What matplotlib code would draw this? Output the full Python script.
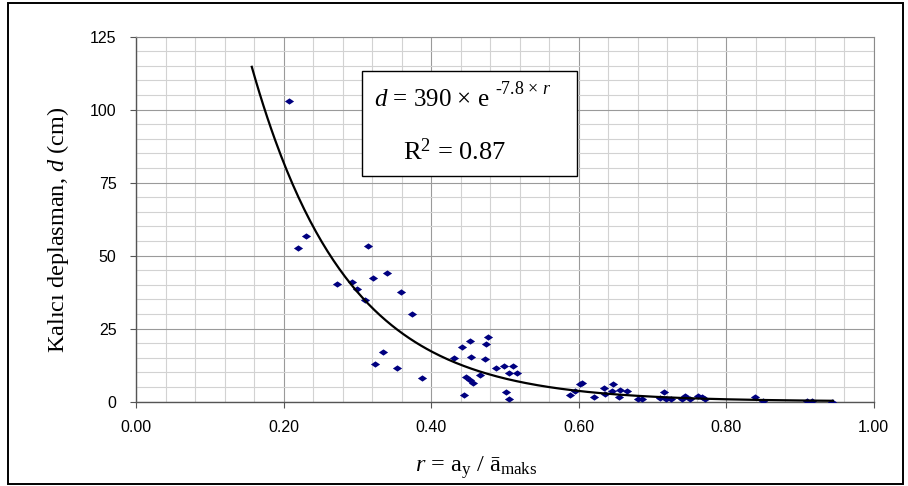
import numpy as np
import matplotlib
matplotlib.use('agg')
import matplotlib.pyplot as plt
from matplotlib.patches import Rectangle
from matplotlib.ticker import MultipleLocator, FormatStrFormatter

plt.rcParams['font.family'] = ['Liberation Sans', 'DejaVu Sans']
plt.rcParams['mathtext.fontset'] = 'custom'
plt.rcParams['mathtext.rm'] = 'Liberation Serif'
plt.rcParams['mathtext.it'] = 'Liberation Serif:italic'

# r = a_y / a_maks and permanent displacement d (cm)
r_vals = [0.207, 0.219, 0.231, 0.315, 0.273, 0.293, 0.300, 0.322, 0.341, 0.311,
          0.359, 0.374, 0.335, 0.324, 0.354, 0.388, 0.431, 0.442, 0.453, 0.477,
          0.475, 0.454, 0.473, 0.448, 0.453, 0.457, 0.466, 0.488, 0.499, 0.511,
          0.506, 0.516, 0.445, 0.502, 0.506, 0.589, 0.595, 0.602, 0.605, 0.621,
          0.635, 0.647, 0.636, 0.646, 0.656, 0.655, 0.666, 0.680, 0.686, 0.716,
          0.711, 0.719, 0.725, 0.740, 0.744, 0.751, 0.762, 0.768, 0.772, 0.839,
          0.850, 0.910, 0.916, 0.944]
d_vals = [103.0, 52.7, 56.7, 53.2, 40.1, 40.9, 38.5, 42.2, 44.1, 34.8,
          37.4, 29.9, 16.8, 12.8, 11.6, 8.2, 14.9, 18.6, 20.8, 22.0,
          19.8, 15.2, 14.5, 8.5, 7.4, 6.4, 9.0, 11.6, 12.1, 12.3,
          9.9, 9.9, 2.2, 3.3, 0.9, 2.2, 3.6, 5.9, 6.4, 1.4,
          4.7, 6.0, 2.5, 3.7, 3.9, 1.4, 3.6, 0.9, 0.9, 3.2,
          1.1, 0.8, 0.8, 0.8, 1.9, 0.9, 1.9, 1.4, 0.8, 1.4,
          0.1, 0.2, 0.2, 0.0]

# fitted curve d = A * exp(-B * r)
fit_a = 390
fit_b = 7.8
fit_r_start = 0.157
fit_r_end = 0.945

fig = plt.figure(figsize=(9.08, 4.86), dpi=100)
ax = fig.add_axes([136 / 908, 1 - 401.5 / 486, 737.5 / 908, 365 / 486])

diamond = [(-1, 0), (0, 0.68), (1, 0), (0, -0.68), (-1, 0)]
ax.scatter(r_vals, d_vals, marker=diamond, s=44, color='#000080',
           linewidths=0, zorder=3)

r_fit = np.linspace(fit_r_start, fit_r_end, 300)
ax.plot(r_fit, fit_a * np.exp(-fit_b * r_fit), color='black', lw=1.6, zorder=4)

ax.set_xlim(0, 1)
ax.set_ylim(0, 125)
ax.xaxis.set_major_locator(MultipleLocator(0.2))
ax.xaxis.set_minor_locator(MultipleLocator(0.04))
ax.yaxis.set_major_locator(MultipleLocator(25))
ax.yaxis.set_minor_locator(MultipleLocator(5))
ax.xaxis.set_major_formatter(FormatStrFormatter('%.2f'))

ax.grid(which='major', color='#9a9a9a', lw=0.8)
ax.grid(which='minor', color='#d2d2d2', lw=0.8)
ax.set_axisbelow(True)

for side in ['top', 'right']:
    ax.spines[side].set_color('#8a8a8a')
    ax.spines[side].set_linewidth(0.8)
for side in ['left', 'bottom']:
    ax.spines[side].set_color('#555555')
    ax.spines[side].set_linewidth(1.0)

ax.tick_params(which='major', direction='out', length=4, width=0.8,
               color='#555555', labelsize=11.5, labelcolor='black')
ax.tick_params(axis='x', which='major', pad=9)
ax.tick_params(axis='y', which='major', pad=10)
ax.tick_params(which='minor', length=0)

fig.text(58 / 908, 1 - 229.5 / 486, 'Kalıcı deplasman, $d$ (cm)',
         rotation=90, ha='center', va='center', fontsize=17.5,
         family='Liberation Serif')
fig.text(476 / 908, 1 - 471.5 / 486,
         r'$r$ = a$_{\mathrm{y}}$ / ā$_{\mathrm{maks}}$',
         ha='center', va='baseline', fontsize=17.5, family='Liberation Serif')

# equation box
ax.add_patch(Rectangle((362 / 908, 1 - 176 / 486), 215 / 908, 105 / 486,
                       transform=fig.transFigure, facecolor='white',
                       edgecolor='black', lw=1.0, zorder=5))
eq = fig.text(374 / 908, 1 - 106 / 486, '$d$ = 390 × e', ha='left',
              va='baseline', fontsize=18, family='Liberation Serif', zorder=6)
ax.annotate('-7.8 × $r$', xy=(1, 0.6), xycoords=eq, xytext=(4, 0),
            textcoords='offset points', va='bottom', ha='left',
            fontsize=13, family='Liberation Serif',
            annotation_clip=False, zorder=6)
fig.text(455 / 908, 1 - 160 / 486, 'R$^2$ = 0.87', ha='center',
         va='baseline', fontsize=19, family='Liberation Serif', zorder=6)

fig.add_artist(Rectangle((8 / 908, 2 / 486), 895 / 908, 481 / 486,
                         transform=fig.transFigure, fill=False,
                         edgecolor='black', lw=1.4))

fig.savefig('out.png', dpi=100)
